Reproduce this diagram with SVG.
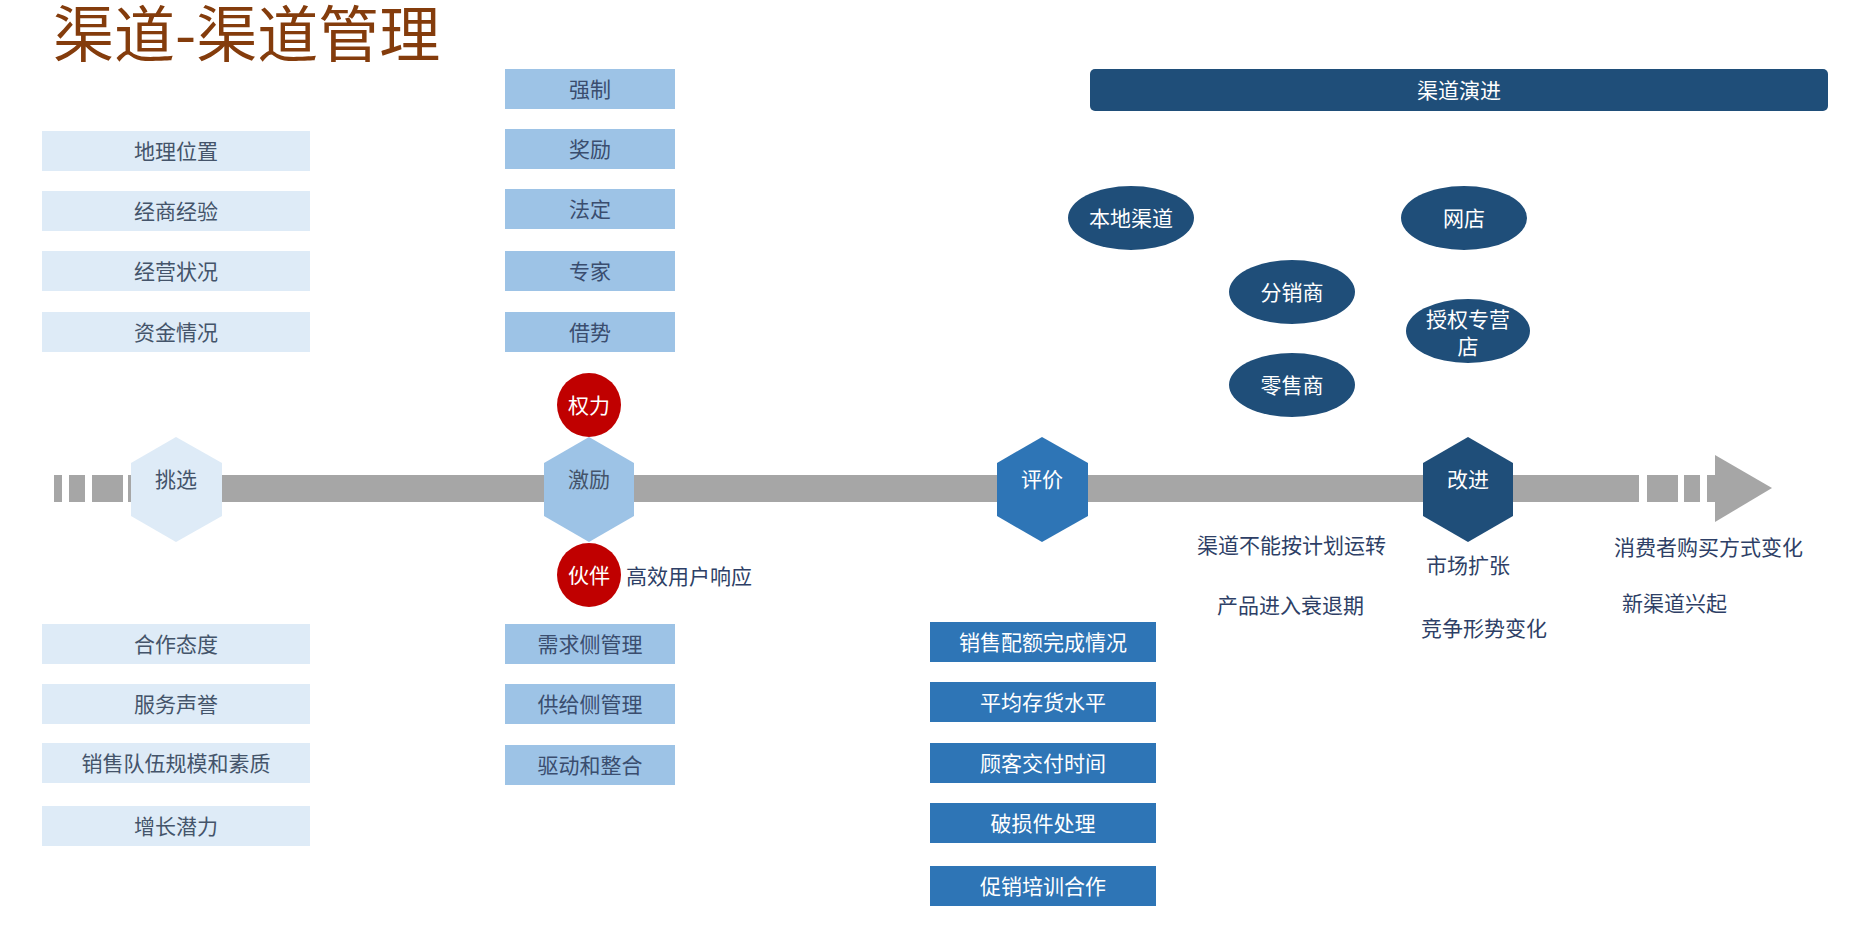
<svg xmlns="http://www.w3.org/2000/svg" width="1850" height="925" viewBox="0 0 1850 925">
<style>
text{font-family:"Noto Sans CJK SC","Liberation Sans",sans-serif;font-size:21px;text-anchor:middle}
.lb{fill:#DEEBF7}
.mb{fill:#9DC3E6}
.db{fill:#2E75B6}
.nv{fill:#1F4E79}
.rd{fill:#C00000}
.bar{fill:#A6A6A6}
.tl{fill:#44546A}
.tm{fill:#3A4D6E}
.tw{fill:#FFFFFF}
.tf{fill:#2E3F66;text-anchor:start}
.title{font-size:61px;fill:#843C0C;text-anchor:start}
</style>
<rect width="1850" height="925" fill="#FFFFFF"/>
<text class="title" x="53" y="57">渠道-渠道管理</text>

<g id="connectors">
<rect class="bar" x="54" y="475" width="8" height="27"/>
<rect class="bar" x="69" y="475" width="16" height="27"/>
<rect class="bar" x="92" y="475" width="31" height="27"/>
<rect class="bar" x="128" y="475" width="1511" height="27"/>
<rect class="bar" x="1647" y="475" width="31" height="27"/>
<rect class="bar" x="1684" y="475" width="16" height="27"/>
<rect class="bar" x="1707" y="475" width="8" height="27"/>
<polygon class="bar" points="1715,455 1772,488 1715,522"/>
</g>

<g id="stage-tiaoxuan">
<polygon class="lb" points="176,437 222,463 222,516 176,542 131,516 131,463"/>
<text class="tl" x="176" y="487">挑选</text>
</g>
<g id="stage-jili">
<polygon class="mb" points="589,437 634,463 634,516 589,542 544,516 544,463"/>
<text class="tl" x="589" y="487">激励</text>
</g>
<g id="stage-pingjia">
<polygon class="db" points="1042,437 1088,463 1088,516 1042,542 997,516 997,463"/>
<text class="tw" x="1042" y="487">评价</text>
</g>
<g id="stage-gaijin">
<polygon class="nv" points="1468,437 1513,463 1513,516 1468,542 1423,516 1423,463"/>
<text class="tw" x="1468" y="487">改进</text>
</g>

<g id="tiaoxuan-criteria">
<g id="c1"><rect class="lb" x="42" y="131" width="268" height="40"/><text class="tl" x="176" y="159">地理位置</text></g>
<g id="c2"><rect class="lb" x="42" y="191" width="268" height="40"/><text class="tl" x="176" y="219">经商经验</text></g>
<g id="c3"><rect class="lb" x="42" y="251" width="268" height="40"/><text class="tl" x="176" y="279">经营状况</text></g>
<g id="c4"><rect class="lb" x="42" y="312" width="268" height="40"/><text class="tl" x="176" y="340">资金情况</text></g>
<g id="c5"><rect class="lb" x="42" y="624" width="268" height="40"/><text class="tl" x="176" y="652">合作态度</text></g>
<g id="c6"><rect class="lb" x="42" y="684" width="268" height="40"/><text class="tl" x="176" y="712">服务声誉</text></g>
<g id="c7"><rect class="lb" x="42" y="743" width="268" height="40"/><text class="tl" x="176" y="771">销售队伍规模和素质</text></g>
<g id="c8"><rect class="lb" x="42" y="806" width="268" height="40"/><text class="tl" x="176" y="834">增长潜力</text></g>
</g>

<g id="jili-items">
<g id="p1"><rect class="mb" x="505" y="69" width="170" height="40"/><text class="tm" x="590" y="97">强制</text></g>
<g id="p2"><rect class="mb" x="505" y="129" width="170" height="40"/><text class="tm" x="590" y="157">奖励</text></g>
<g id="p3"><rect class="mb" x="505" y="189" width="170" height="40"/><text class="tm" x="590" y="217">法定</text></g>
<g id="p4"><rect class="mb" x="505" y="251" width="170" height="40"/><text class="tm" x="590" y="279">专家</text></g>
<g id="p5"><rect class="mb" x="505" y="312" width="170" height="40"/><text class="tm" x="590" y="340">借势</text></g>
<g id="power"><circle class="rd" cx="589" cy="405" r="32"/><text class="tw" x="589" y="413">权力</text></g>
<g id="partner"><circle class="rd" cx="589" cy="575" r="32"/><text class="tw" x="589" y="583">伙伴</text></g>
<text class="tf" x="626" y="584">高效用户响应</text>
<g id="q1"><rect class="mb" x="505" y="624" width="170" height="40"/><text class="tm" x="590" y="652">需求侧管理</text></g>
<g id="q2"><rect class="mb" x="505" y="684" width="170" height="40"/><text class="tm" x="590" y="712">供给侧管理</text></g>
<g id="q3"><rect class="mb" x="505" y="745" width="170" height="40"/><text class="tm" x="590" y="773">驱动和整合</text></g>
</g>

<g id="pingjia-items">
<g id="e1"><rect class="db" x="930" y="622" width="226" height="40"/><text class="tw" x="1043" y="650">销售配额完成情况</text></g>
<g id="e2"><rect class="db" x="930" y="682" width="226" height="40"/><text class="tw" x="1043" y="710">平均存货水平</text></g>
<g id="e3"><rect class="db" x="930" y="743" width="226" height="40"/><text class="tw" x="1043" y="771">顾客交付时间</text></g>
<g id="e4"><rect class="db" x="930" y="803" width="226" height="40"/><text class="tw" x="1043" y="831">破损件处理</text></g>
<g id="e5"><rect class="db" x="930" y="866" width="226" height="40"/><text class="tw" x="1043" y="894">促销培训合作</text></g>
</g>

<g id="gaijin-reasons">
<text class="tf" x="1197" y="553">渠道不能按计划运转</text>
<text class="tf" x="1217" y="613">产品进入衰退期</text>
<text class="tf" x="1426" y="573">市场扩张</text>
<text class="tf" x="1421" y="636">竞争形势变化</text>
<text class="tf" x="1614" y="555">消费者购买方式变化</text>
<text class="tf" x="1622" y="611">新渠道兴起</text>
</g>

<g id="evolution">
<g id="evo-bar"><rect class="nv" x="1090" y="69" width="738" height="42" rx="5"/><text class="tw" x="1459" y="98">渠道演进</text></g>
<g id="local"><ellipse class="nv" cx="1131" cy="218" rx="63" ry="32"/><text class="tw" x="1131" y="226">本地渠道</text></g>
<g id="online"><ellipse class="nv" cx="1464" cy="218" rx="63" ry="32"/><text class="tw" x="1464" y="226">网店</text></g>
<g id="distributor"><ellipse class="nv" cx="1292" cy="292" rx="63" ry="32"/><text class="tw" x="1292" y="300">分销商</text></g>
<g id="licensed"><ellipse class="nv" cx="1468" cy="331" rx="62" ry="32"/><text class="tw" x="1468" y="327">授权专营</text><text class="tw" x="1468" y="354">店</text></g>
<g id="retailer"><ellipse class="nv" cx="1292" cy="385" rx="63" ry="32"/><text class="tw" x="1292" y="393">零售商</text></g>
</g>
</svg>
